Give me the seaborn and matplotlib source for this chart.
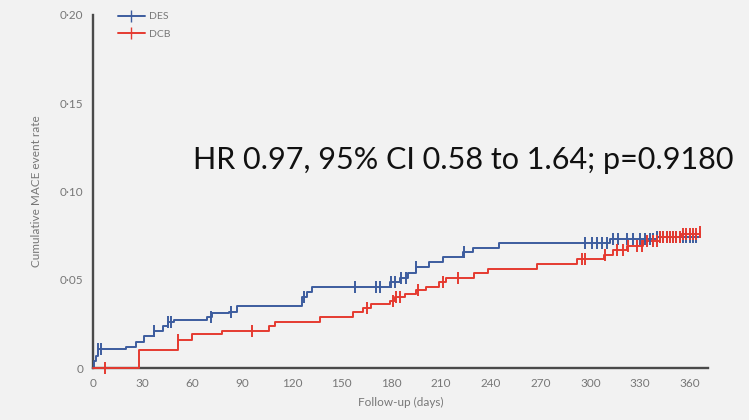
import numpy as np
import pandas as pd
import seaborn as sns
import matplotlib.pyplot as plt
from matplotlib.lines import Line2D

# step data (days, cumulative event rate)
des_t = [0, 0.5, 1.5, 3, 20, 26, 31, 37, 42, 45, 49, 69, 72, 82, 87, 126, 129, 132,
         179, 185, 190, 195, 203, 211, 223, 229, 245, 312, 340, 366]
des_y = [0, 0.004, 0.007, 0.011, 0.012, 0.015, 0.018, 0.021, 0.024, 0.026, 0.027,
         0.029, 0.031, 0.032, 0.035, 0.040, 0.043, 0.046, 0.049, 0.051, 0.054, 0.057,
         0.060, 0.063, 0.066, 0.068, 0.071, 0.073, 0.074, 0.075]
dcb_t = [0, 28, 51, 60, 78, 106, 110, 137, 157, 163, 168, 179, 182, 188, 195, 201,
         209, 213, 230, 238, 268, 292, 308, 314, 322, 332, 342, 355, 366]
dcb_y = [0, 0.010, 0.016, 0.019, 0.021, 0.024, 0.026, 0.029, 0.032, 0.034, 0.036,
         0.038, 0.040, 0.042, 0.044, 0.046, 0.049, 0.051, 0.054, 0.056, 0.059, 0.062,
         0.064, 0.067, 0.069, 0.072, 0.074, 0.076, 0.077]

# censoring times
des_cens = [3, 5, 37, 45, 47, 71, 83, 127, 158, 171, 173, 180, 182, 186, 189, 195, 224,
            297, 301, 304, 307, 310, 314, 317, 322, 326, 330, 333, 336, 338, 340, 342,
            344, 346, 348, 350, 352, 354, 356, 358, 360, 362, 364]
dcb_cens = [7, 51, 96, 165, 181, 183, 185, 196, 211, 220, 295, 297, 309, 316, 320, 323,
            328, 331, 334, 338, 340, 342, 344, 346, 348, 350, 352, 354, 356, 358, 360,
            362, 364, 366]

x_ticks = list(range(0, 361, 30))
y_ticks = [0, 0.05, 0.10, 0.15, 0.20]
y_labels = ['0', '0·05', '0·10', '0·15', '0·20']

blue = '#3d5c9e'
red = '#e53a30'
grey = '#777777'
bg = '#f2f2f2'

sns.set_style('white')
plt.rcParams['font.family'] = ['Lato', 'DejaVu Sans']

fig = plt.figure(figsize=(7.49, 4.20), dpi=100, facecolor=bg)
ax = fig.add_axes([0.1242, 0.1238, 0.821, 0.8405])
ax.set_facecolor(bg)


def cens_points(t, y, cens):
    idx = np.searchsorted(t, cens, side='right') - 1
    return pd.DataFrame({'t': cens, 'y': np.array(y)[idx]})


for t, y, cens, col in [(des_t, des_y, des_cens, blue), (dcb_t, dcb_y, dcb_cens, red)]:
    df = pd.DataFrame({'t': t, 'y': y})
    sns.lineplot(data=df, x='t', y='y', drawstyle='steps-post', color=col,
                 linewidth=1.4, ax=ax, clip_on=False, zorder=3)
    cp = cens_points(t, y, cens)
    sns.scatterplot(data=cp, x='t', y='y', marker='|', s=70, color=col,
                    linewidth=1.4, ax=ax, clip_on=False, zorder=4)

ax.set_xlim(0, 371)
ax.set_ylim(0, 0.20)
ax.set_xticks(x_ticks)
ax.set_yticks(y_ticks)
ax.set_yticklabels(y_labels)
ax.tick_params(axis='both', direction='out', length=4, width=1.2, color='#555555',
               labelsize=8.5, labelcolor=grey, pad=3)
for s in ['top', 'right']:
    ax.spines[s].set_visible(False)
for s in ['left', 'bottom']:
    ax.spines[s].set_color('#4a4a4a')
    ax.spines[s].set_linewidth(1.7)

ax.set_xlabel('Follow-up (days)', fontsize=8.5, color=grey, labelpad=6)
ax.set_ylabel('Cumulative MACE event rate', fontsize=8.5, color=grey, labelpad=13)

handles = [Line2D([], [], color=blue, marker='|', markersize=8, linewidth=1.4),
           Line2D([], [], color=red, marker='|', markersize=8, linewidth=1.4)]
leg = ax.legend(handles, ['DES', 'DCB'], loc='upper left', bbox_to_anchor=(0.025, 1.035),
                frameon=False, fontsize=7.5, handlelength=2.6, handletextpad=0.4,
                labelspacing=0.8)
for txt in leg.get_texts():
    txt.set_color(grey)

ax.text(0.163, 0.59, 'HR 0.97, 95% CI 0.58 to 1.64; p=0.9180', transform=ax.transAxes,
        fontsize=22, color='#111111', va='center', ha='left')

fig.savefig('out.png', dpi=100, facecolor=fig.get_facecolor())
